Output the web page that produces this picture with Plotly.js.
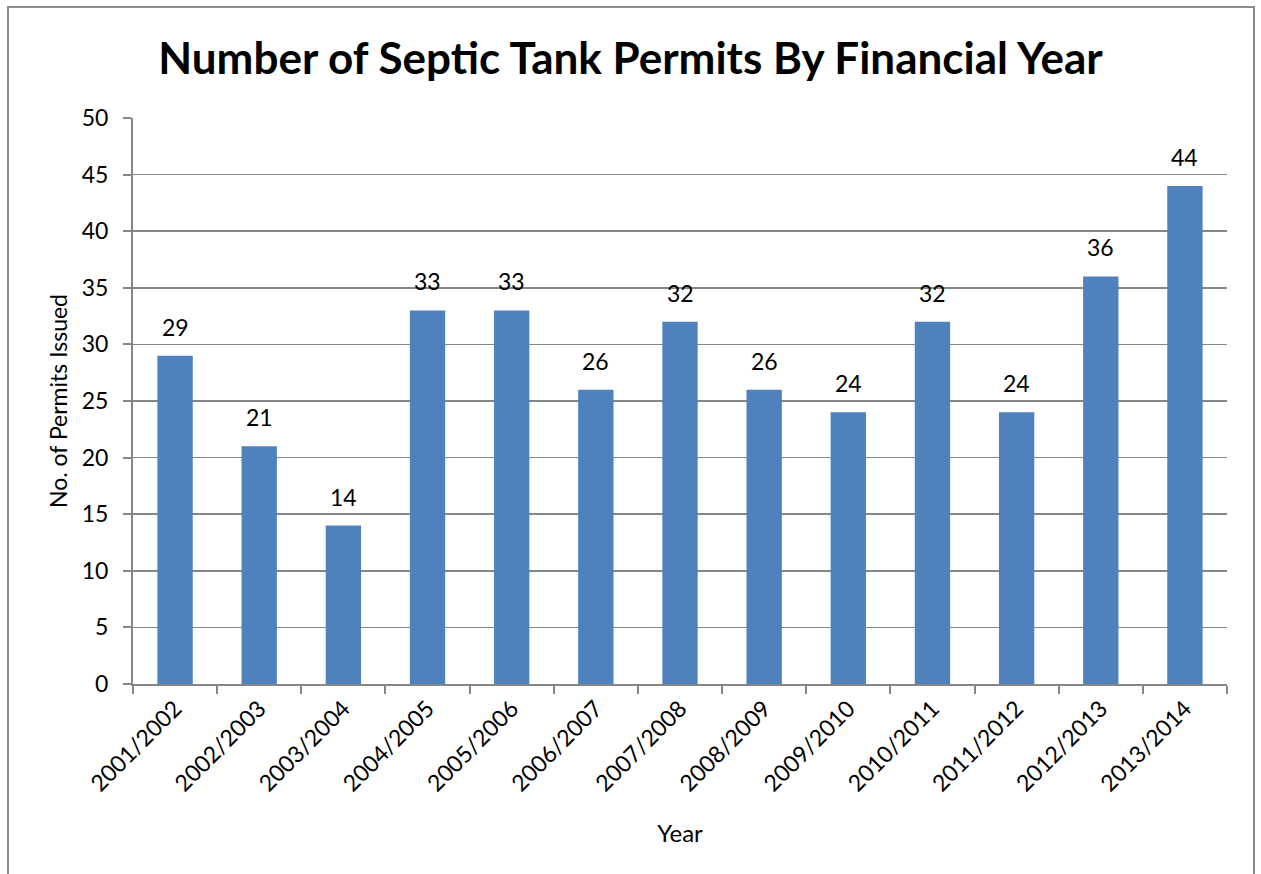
<!DOCTYPE html>
<html>
<head>
<meta charset="utf-8">
<script src="https://cdn.plot.ly/plotly-3.0.1.min.js"></script>
<style>
html,body{margin:0;padding:0;background:#fff;overflow:hidden;}
#chart{width:1261px;height:874px;}
#frame{position:absolute;left:7px;top:6px;width:1248px;height:900px;border:2px solid #8c8c8c;box-sizing:border-box;pointer-events:none;}
</style>
</head>
<body>
<div id="chart"></div>
<div id="frame"></div>
<script>
const years = ["2001/2002","2002/2003","2003/2004","2004/2005","2005/2006","2006/2007","2007/2008","2008/2009","2009/2010","2010/2011","2011/2012","2012/2013","2013/2014"];
const permits = [29,21,14,33,33,26,32,26,24,32,24,36,44];
const yTicks = [0,5,10,15,20,25,30,35,40,45,50];

const font = "Lato, 'Open Sans', sans-serif";
const labels = years.map((yr, i) => ({
  x: yr, y: permits[i], xref: 'x', yref: 'y',
  text: String(permits[i]), showarrow: false,
  yanchor: 'bottom', yshift: 13,
  font: {family: font, size: 23, color: '#000'}
}));

Plotly.newPlot('chart', [{
  type: 'bar',
  x: years,
  y: permits,
  marker: {color: '#4F81BD'},
  width: 0.42
}], {
  width: 1261, height: 874,
  margin: {l: 133, r: 34, t: 118, b: 190},
  paper_bgcolor: '#fff', plot_bgcolor: '#fff',
  showlegend: false,
  annotations: labels,
  title: {text: '<b>Number of Septic Tank Permits By Financial Year</b>', x: 0.5, xref: 'container', y: 61, yref: 'container', xanchor: 'center', yanchor: 'middle',
    font: {family: font, size: 44, color: '#000'}},
  xaxis: {
    type: 'category', tickangle: -45, tickson: 'boundaries',
    ticks: 'outside', ticklen: 8, tickcolor: '#868686', tickwidth: 2,
    showline: true, linecolor: '#868686', linewidth: 2,
    showgrid: false,
    tickfont: {family: font, size: 23, color: '#000'},
    title: {text: 'Year', font: {family: font, size: 24, color: '#000'}, standoff: 30}
  },
  yaxis: {
    range: [0, 50], tickvals: yTicks, ticktext: yTicks.map(String),
    ticks: 'outside', ticklen: 8, tickcolor: '#868686', tickwidth: 2,
    ticklabelstandoff: 10,
    showline: true, linecolor: '#868686', linewidth: 2,
    showgrid: true, gridcolor: '#868686', gridwidth: 1.5,
    zeroline: false,
    tickfont: {family: font, size: 23, color: '#000'},
    title: {text: 'No. of Permits Issued', font: {family: font, size: 23, color: '#000'}, standoff: 8}
  },
  bargap: 0.58
}, {staticPlot: true});
</script>
</body>
</html>
